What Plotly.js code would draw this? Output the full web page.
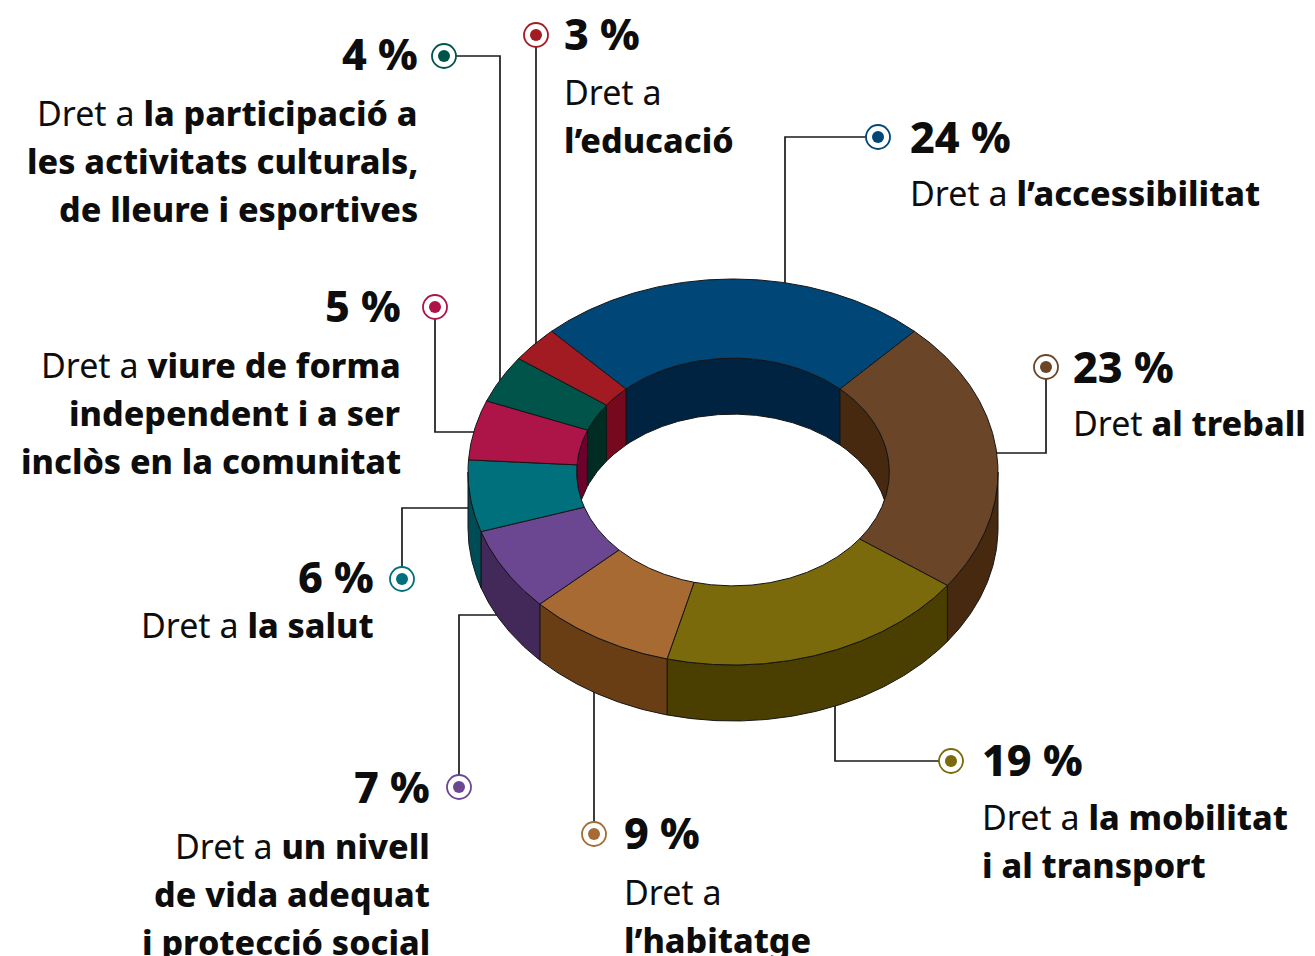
<!DOCTYPE html>
<html><head><meta charset="utf-8">
<script src="https://cdn.plot.ly/plotly-3.0.1.min.js"></script>
<style>html,body{margin:0;padding:0;background:#fff;overflow:hidden}</style>
</head><body><div id="chart" style="width:1315px;height:956px"></div>
<script>
// ---------- DATA ----------
const categories = [
  "Dret a l’accessibilitat", "Dret al treball", "Dret a la mobilitat i al transport",
  "Dret a l’habitatge", "Dret a un nivell de vida adequat i protecció social",
  "Dret a la salut", "Dret a viure de forma independent i a ser inclòs en la comunitat",
  "Dret a la participació a les activitats culturals, de lleure i esportives", "Dret a l’educació"
];
const values = [24, 23, 19, 9, 7, 6, 5, 4, 3];
const percentLabels = values.map(v => v + " %");
const labelLines = [
  ["Dret a <b>l’accessibilitat</b>"],
  ["Dret <b>al treball</b>"],
  ["Dret a <b>la mobilitat</b>", "<b>i al transport</b>"],
  ["Dret a", "<b>l’habitatge</b>"],
  ["Dret a <b>un nivell</b>", "<b>de vida adequat</b>", "<b>i protecció social</b>"],
  ["Dret a <b>la salut</b>"],
  ["Dret a <b>viure de forma</b>", "<b>independent i a ser</b>", "<b>inclòs en la comunitat</b>"],
  ["Dret a <b>la participació a</b>", "<b>les activitats culturals,</b>", "<b>de lleure i esportives</b>"],
  ["Dret a", "<b>l’educació</b>"]
];

// ---------- STYLE / LAYOUT ----------
const topColors  = ["#004676", "#6a4528", "#7a6a0b", "#a66a32", "#6b4792", "#00717c", "#ad1447", "#00544a", "#a31b22"];
const sideColors = ["#002342", "#46290e", "#4a3f00", "#6a3e14", "#43295a", "#004c56", "#6e002c", "#002c24", "#77091e"];
const donut = {cx: 733, cy: 472, rx: 265, ry: 193, hole: 0.59, depth: 56};
const FONT = "'Noto Sans', 'Open Sans', sans-serif";
const BOLD_STYLE = "font-weight:800";
const callouts = [
  {m:[878,137],  path:[[878,137],[785,137],[785,300]],  side:"left",  tx:908, ty:136, gap:57},
  {m:[1046,367], path:[[1046,367],[1046,453],[985,453]], side:"left", tx:1071, ty:366, gap:57},
  {m:[951,761],  path:[[951,761],[835,761],[835,690]],  side:"left",  tx:980, ty:759, gap:58},
  {m:[594,834],  path:[[594,834],[594,680]],            side:"left",  tx:622, ty:832, gap:60},
  {m:[459,787],  path:[[459,787],[459,615],[510,615]],  side:"right", tx:432, ty:786, gap:60},
  {m:[402,579],  path:[[402,579],[402,508],[480,508]],  side:"right", tx:376, ty:576, gap:49},
  {m:[435,307],  path:[[435,307],[435,432],[485,432]],  side:"right", tx:403, ty:305, gap:60},
  {m:[444,56],   path:[[444,56],[500,56],[500,390]],    side:"right", tx:420, ty:53,  gap:60},
  {m:[536,35],   path:[[536,35],[536,355]],             side:"left",  tx:562, ty:33,  gap:59}
];
const lineStep = 48;

// ---------- GEOMETRY (from values) ----------
const total = values.reduce((a, b) => a + b, 0);
const start0 = -values[0] / total * 180;   // first slice centred at the top
const slices = [];
let acc = start0;
values.forEach(v => { const a0 = acc; acc += v / total * 360; slices.push([a0, acc]); });

function arc(a0, a1, sx, sy, dy) {
  const pts = [];
  const n = Math.max(2, Math.ceil(Math.abs(a1 - a0) / 0.5));
  for (let i = 0; i <= n; i++) {
    const t = (a0 + (a1 - a0) * i / n) * Math.PI / 180;
    pts.push([donut.cx + sx * Math.sin(t), donut.cy - sy * Math.cos(t) + dy]);
  }
  return pts;
}
function poly(pts, fill) {
  return {type: "scatter", mode: "lines", x: pts.map(p => p[0]), y: pts.map(p => p[1]),
    fill: "toself", fillcolor: fill, line: {color: "#151515", width: 1},
    hoverinfo: "skip", showlegend: false};
}
const R = donut.rx, Ry = donut.ry, r = donut.rx * donut.hole, ry = donut.ry * donut.hole, D = donut.depth;

const traces = [];
// leader lines (under donut)
callouts.forEach(c => {
  traces.push({type: "scatter", mode: "lines", x: c.path.map(p => p[0]), y: c.path.map(p => p[1]),
    line: {color: "#1a1a1a", width: 1.7}, hoverinfo: "skip", showlegend: false});
});
// inner back walls (visible through the hole): angles in [270, 450]
slices.forEach((s, i) => {
  [[s[0], s[1]], [s[0] + 360, s[1] + 360]].forEach(([a0, a1]) => {
    const lo = Math.max(a0, 270), hi = Math.min(a1, 450);
    if (hi > lo) {
      const top = arc(lo, hi, r, ry, 0), bot = arc(hi, lo, r, ry, D);
      traces.push(poly(top.concat(bot, [top[0]]), sideColors[i]));
    }
  });
});
// outer front side walls: angles in [90, 270]
slices.forEach((s, i) => {
  const lo = Math.max(s[0], 90), hi = Math.min(s[1], 270);
  if (hi > lo) {
    const top = arc(lo, hi, R, Ry, 0), bot = arc(hi, lo, R, Ry, D);
    traces.push(poly(top.concat(bot, [top[0]]), sideColors[i]));
  }
});
// top faces
slices.forEach((s, i) => {
  const outer = arc(s[0], s[1], R, Ry, 0), inner = arc(s[1], s[0], r, ry, 0);
  traces.push(poly(outer.concat(inner, [outer[0]]), topColors[i]));
});
// markers
traces.push({type: "scatter", mode: "markers", x: callouts.map(c => c.m[0]), y: callouts.map(c => c.m[1]),
  marker: {size: 24, color: "#ffffff", line: {color: topColors, width: 1.8}}, hoverinfo: "skip", showlegend: false});
traces.push({type: "scatter", mode: "markers", x: callouts.map(c => c.m[0]), y: callouts.map(c => c.m[1]),
  marker: {size: 12, color: topColors, line: {width: 0}}, hoverinfo: "skip", showlegend: false});

// annotations
const heavy = t => t.replace(/<b>/g, '<span style="' + BOLD_STYLE + '">').replace(/<\/b>/g, '</span>');
const annotations = [];
callouts.forEach((c, i) => {
  annotations.push({x: c.tx, y: c.ty, xref: "x", yref: "y", xanchor: c.side, yanchor: "middle",
    text: heavy("<b>" + percentLabels[i] + "</b>"), showarrow: false, align: c.side,
    font: {family: FONT, size: 43, color: "#0d0d0d"}});
  labelLines[i].forEach((t, k) => {
    annotations.push({x: c.tx, y: c.ty + c.gap + k * lineStep, xref: "x", yref: "y",
      xanchor: c.side, yanchor: "middle", text: heavy(t), showarrow: false, align: c.side,
      font: {family: FONT, size: 34, color: "#0d0d0d"}});
  });
});

const layout = {
  width: 1315, height: 956, margin: {l: 0, r: 0, t: 0, b: 0},
  paper_bgcolor: "#ffffff", plot_bgcolor: "#ffffff",
  xaxis: {range: [0, 1315], visible: false, fixedrange: true},
  yaxis: {range: [956, 0], visible: false, fixedrange: true},
  annotations: annotations, showlegend: false
};
Plotly.newPlot("chart", traces, layout, {staticPlot: true, displayModeBar: false});
</script>
</body></html>
